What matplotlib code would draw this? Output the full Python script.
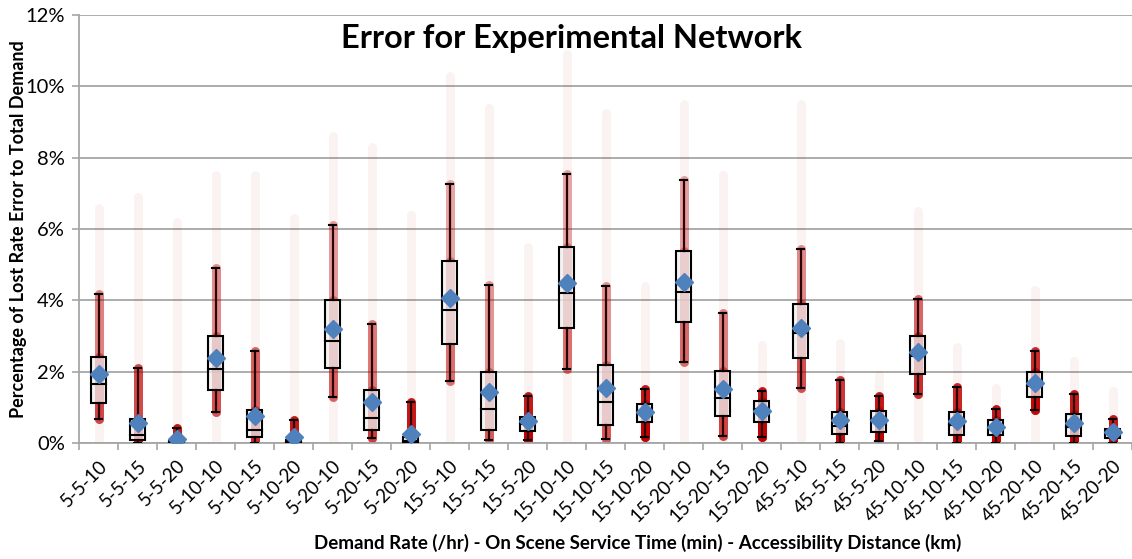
import matplotlib
matplotlib.use("Agg")
import matplotlib.pyplot as plt
from matplotlib.patches import Rectangle
import numpy as np

categories = ["5-5-10", "5-5-15", "5-5-20", "5-10-10", "5-10-15", "5-10-20",
              "5-20-10", "5-20-15", "5-20-20", "15-5-10", "15-5-15", "15-5-20",
              "15-10-10", "15-10-15", "15-10-20", "15-20-10", "15-20-15", "15-20-20",
              "45-5-10", "45-5-15", "45-5-20", "45-10-10", "45-10-15", "45-10-20",
              "45-20-10", "45-20-15", "45-20-20"]

# values in percent
whisker_low = [0.67, 0.00, 0.00, 0.87, 0.00, 0.00, 1.29, 0.15, 0.00, 1.74, 0.08, 0.08,
               2.07, 0.10, 0.17, 2.27, 0.20, 0.17, 1.54, 0.00, 0.05, 1.37, 0.00, 0.00,
               0.93, 0.00, 0.00]
q1 = [1.12, 0.08, 0.00, 1.49, 0.17, 0.00, 2.10, 0.36, 0.00, 2.78, 0.36, 0.34,
      3.22, 0.50, 0.59, 3.39, 0.76, 0.59, 2.38, 0.25, 0.31, 1.93, 0.22, 0.22,
      1.29, 0.20, 0.14]
median = [1.65, 0.22, 0.03, 2.07, 0.36, 0.03, 2.86, 0.71, 0.05, 3.73, 0.95, 0.53,
          4.20, 1.15, 0.87, 4.23, 1.26, 0.95, 3.08, 0.48, 0.64, 2.44, 0.50, 0.42,
          1.60, 0.45, 0.28]
q3 = [2.41, 0.67, 0.06, 3.00, 0.93, 0.08, 4.00, 1.48, 0.17, 5.10, 1.99, 0.73,
      5.50, 2.19, 1.09, 5.38, 2.02, 1.18, 3.90, 0.87, 0.90, 3.00, 0.87, 0.64,
      1.99, 0.81, 0.39]
whisker_high = [4.18, 2.10, 0.42, 4.90, 2.58, 0.65, 6.10, 3.34, 1.15, 7.26, 4.43, 1.32,
                7.54, 4.40, 1.51, 7.37, 3.64, 1.46, 5.44, 1.77, 1.32, 4.04, 1.57, 0.95,
                2.58, 1.37, 0.67]
mean = [1.93, 0.56, 0.11, 2.38, 0.76, 0.16, 3.19, 1.15, 0.25, 4.06, 1.43, 0.62,
        4.49, 1.54, 0.87, 4.51, 1.51, 0.90, 3.22, 0.64, 0.64, 2.55, 0.62, 0.45,
        1.68, 0.56, 0.31]
points_max = [6.6, 6.9, 6.2, 7.5, 7.5, 6.3, 8.6, 8.3, 6.4, 10.3, 9.4, 5.5,
              10.9, 9.25, 4.4, 9.5, 7.5, 2.75, 9.5, 2.8, 1.9, 6.5, 2.7, 1.55,
              4.3, 2.3, 1.45]

yticks = [0, 2, 4, 6, 8, 10, 12]
ytick_labels = ["0%", "2%", "4%", "6%", "8%", "10%", "12%"]

plt.rcParams['font.family'] = ['Lato', 'DejaVu Sans']

fig = plt.figure(figsize=(11.32, 5.59), dpi=100)
ax = fig.add_axes([0.0698, 0.2075, 1 - 0.0698, 0.7657])

red = "#C00000"
x = np.arange(len(categories))
box_w = 0.40
cap_w = 0.18
strip_lw = 6.5

for i in x:
    # faint full extent of the points
    ax.plot([i, i], [0, points_max[i]], color=red, alpha=0.05, lw=strip_lw,
            solid_capstyle='round', zorder=2)
    rng = whisker_high[i] - whisker_low[i]
    a = float(np.clip(2.0 / (rng + 0.8), 0.3, 0.9))
    ax.plot([i, i], [whisker_low[i], whisker_high[i]], color=red, alpha=a, lw=strip_lw,
            solid_capstyle='round', zorder=2)
    ax.plot([i, i], [whisker_low[i], q3[i]], color=red, alpha=a, lw=strip_lw,
            solid_capstyle='round', zorder=2)
    # box face
    ax.add_patch(Rectangle((i - box_w / 2, q1[i]), box_w, q3[i] - q1[i],
                           facecolor="#f0f0f0", alpha=0.75, edgecolor='none', zorder=3))
    ax.add_patch(Rectangle((i - box_w / 2, q1[i]), box_w, q3[i] - q1[i],
                           facecolor='none', edgecolor='black', lw=1.5, zorder=4))
    # median
    ax.plot([i - box_w / 2, i + box_w / 2], [median[i], median[i]], color='black',
            lw=1.5, zorder=4)
    # whiskers
    ax.plot([i, i], [q3[i], whisker_high[i]], color='#2b0505', lw=1.6, zorder=3.5)
    ax.plot([i, i], [whisker_low[i], q1[i]], color='#2b0505', lw=1.6, zorder=3.5)
    for w in (whisker_low[i], whisker_high[i]):
        ax.plot([i - cap_w / 2, i + cap_w / 2], [w, w], color='black', lw=1.5, zorder=4)

ax.plot(x, mean, linestyle='none', marker='D', markersize=9, color='#4F81BD',
        markeredgecolor='#4F81BD', zorder=6)

ax.set_xlim(-0.5, 26.42)
ax.set_ylim(0, 12)
ax.set_yticks(yticks)
ax.set_yticklabels(ytick_labels, fontsize=14.5)
ax.set_xticks(x)
ax.set_xticklabels(categories, rotation=45, ha='right', va='top',
                   rotation_mode='anchor', fontsize=13.5)
ax.set_xticks(np.arange(-0.5, 27, 1), minor=True)
ax.tick_params(axis='x', which='major', length=0, pad=10)
ax.tick_params(axis='x', which='minor', length=5, color='#a6a6a6', width=1.2)
ax.tick_params(axis='y', length=5, color='#a6a6a6', width=1.2, pad=5)

ax.grid(axis='y', color='#a6a6a6', lw=1.3, zorder=0)
ax.set_axisbelow(True)
for s in ['top', 'right']:
    ax.spines[s].set_visible(False)
for s in ['left', 'bottom']:
    ax.spines[s].set_color('#a6a6a6')
    ax.spines[s].set_linewidth(1.3)

ax.set_ylabel("Percentage of Lost Rate Error to Total Demand", fontsize=13,
              fontweight='bold')
ax.yaxis.set_label_coords(-0.049, 0.5)
fig.text(0.563, 0.012, "Demand Rate (/hr) - On Scene Service Time (min) - Accessibility Distance (km)",
         ha='center', va='bottom', fontsize=13.5, fontweight='bold')
ax.text(0.468, 0.978, "Error for Experimental Network", transform=ax.transAxes,
        ha='center', va='top', fontsize=23.5, fontweight='bold')

fig.savefig("out.png", dpi=100)
